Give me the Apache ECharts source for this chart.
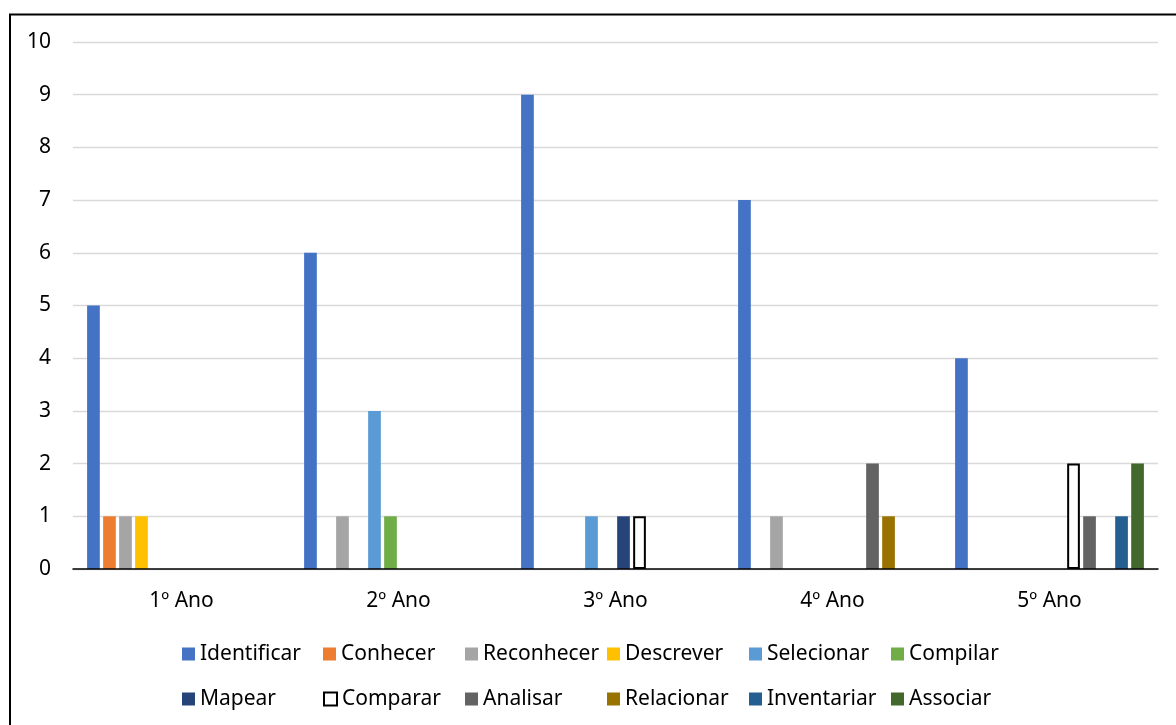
<!DOCTYPE html>
<html>
<head>
<meta charset="utf-8">
<script src="https://cdn.jsdelivr.net/npm/echarts@6/dist/echarts.min.js"></script>
<style>
  html, body { margin: 0; padding: 0; background: #fff; }
  #chart { width: 1176px; height: 725px; }
</style>
</head>
<body>
<div id="chart"></div>
<script>
// Categories (school years)
const categories = ['1º Ano', '2º Ano', '3º Ano', '4º Ano', '5º Ano'];

// Series names in legend order
const seriesNames = ['Identificar', 'Conhecer', 'Reconhecer', 'Descrever', 'Selecionar', 'Compilar',
                     'Mapear', 'Comparar', 'Analisar', 'Relacionar', 'Inventariar', 'Associar'];

// Counts per series, one value per year
const identificar = [5, 6, 9, 7, 4];
const conhecer    = [1, 0, 0, 0, 0];
const reconhecer  = [1, 1, 0, 1, 0];
const descrever   = [1, 0, 0, 0, 0];
const selecionar  = [0, 3, 1, 0, 0];
const compilar    = [0, 1, 0, 0, 0];
const mapear      = [0, 0, 1, 0, 0];
const comparar    = [0, 0, 1, 0, 2];
const analisar    = [0, 0, 0, 2, 1];
const relacionar  = [0, 0, 0, 1, 0];
const inventariar = [0, 0, 0, 0, 1];
const associar    = [0, 0, 0, 0, 2];

const yTicks = [0, 1, 2, 3, 4, 5, 6, 7, 8, 9, 10];

const seriesValues = [identificar, conhecer, reconhecer, descrever, selecionar, compilar,
                      mapear, comparar, analisar, relacionar, inventariar, associar];

const palette = ['#4472C4', '#ED7D31', '#A5A5A5', '#FFC000', '#5B9BD5', '#70AD47',
                 '#264478', '#FFFFFF', '#636363', '#997300', '#255E91', '#43682B'];

const FONT = '"Noto Sans", sans-serif';
const FONT_SIZE = 21;

// Empty counts are left blank so outlined bars don't leave a stroke on the axis
const toBars = values => values.map(v => (v === 0 ? '-' : v));

const series = seriesNames.map((name, i) => {
  const outlined = name === 'Comparar';
  return {
    name: name,
    type: 'bar',
    data: toBars(seriesValues[i]),
    barGap: '26%',
    barCategoryGap: '13%',
    itemStyle: outlined
      ? { color: '#FFFFFF', borderColor: '#000000', borderWidth: 2 }
      : { color: palette[i] },
    emphasis: { disabled: true },
    animation: false
  };
});

// Legend laid out as a 6 x 2 grid of fixed columns
const legendCols = [182, 323, 465, 607, 749, 891];
const legendRows = [654, 699];
const legends = seriesNames.map((name, i) => ({
  data: [name],
  left: legendCols[i % 6],
  top: legendRows[Math.floor(i / 6)] - 11,
  padding: 0,
  itemWidth: 13,
  itemHeight: 13,
  itemGap: 0,
  selectedMode: false,
  icon: 'rect',
  textStyle: { fontFamily: FONT, fontSize: FONT_SIZE, color: '#000', lineHeight: 22 }
}));

const chart = echarts.init(document.getElementById('chart'), null, { renderer: 'canvas' });
chart.setOption({
  backgroundColor: '#fff',
  animation: false,
  graphic: [{
    type: 'rect',
    shape: { x: 10, y: 14.5, width: 1300, height: 900 },
    style: { fill: 'none', stroke: '#000', lineWidth: 2 },
    silent: true,
    z: 100
  }],
  grid: { left: 73, right: 18, top: 42, bottom: 156, containLabel: false },
  legend: legends,
  xAxis: {
    type: 'category',
    data: categories,
    axisTick: { show: false },
    axisLine: { show: true, lineStyle: { color: '#000', width: 1.5 } },
    axisLabel: { fontFamily: FONT, fontSize: FONT_SIZE, color: '#000', margin: 22 },
    z: 10
  },
  yAxis: {
    type: 'value',
    min: yTicks[0],
    max: yTicks[yTicks.length - 1],
    interval: 1,
    axisLine: { show: false },
    axisTick: { show: false },
    axisLabel: { fontFamily: FONT, fontSize: FONT_SIZE, color: '#000', margin: 22 },
    splitLine: { lineStyle: { color: '#D9D9D9', width: 1.3 } }
  },
  series: series
});
</script>
</body>
</html>
